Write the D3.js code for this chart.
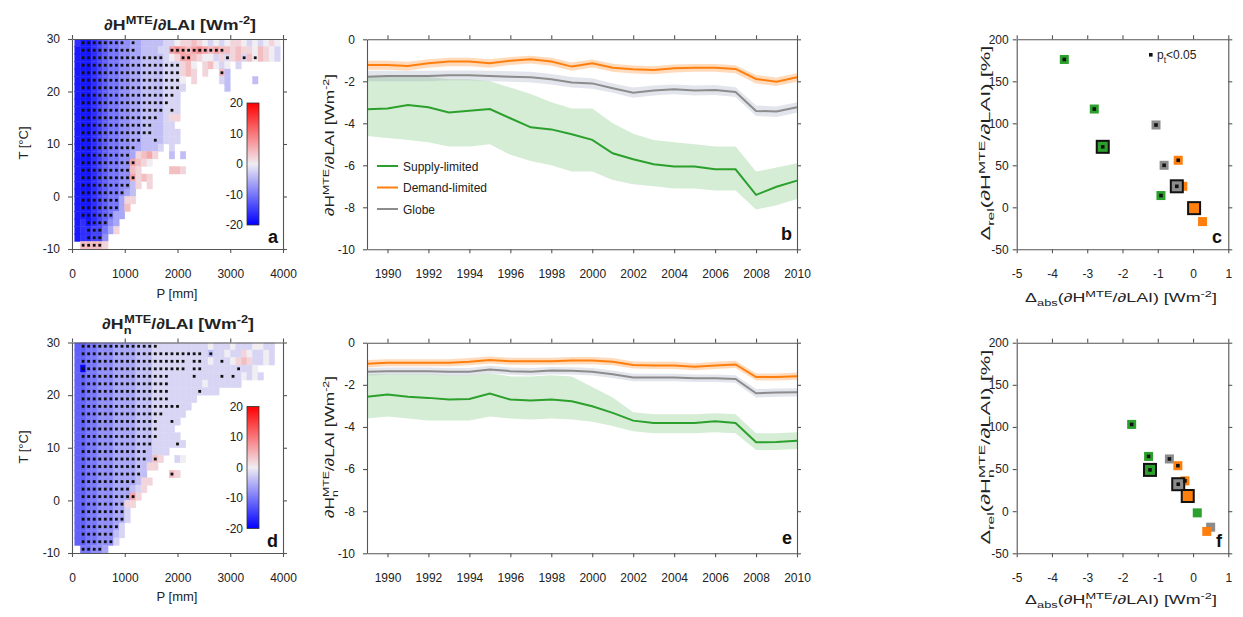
<!DOCTYPE html>
<html>
<head>
<meta charset="utf-8">
<script src="https://cdn.jsdelivr.net/npm/d3@7"></script>
<style>
body { margin: 0; background: #fff; }
svg { font-family: "Liberation Sans", Arial, sans-serif; }
.tick text { font-size: 12px; fill: #222; }
.tick line, .domain { stroke: #555; stroke-width: 1.1; }
</style>
</head>
<body>
<svg width="1243" height="617"></svg>
<script>
const svg = d3.select('svg')

// ---- panels a, d: P-T heat maps ----
const pTicks = [0, 1000, 2000, 3000, 4000]
const tTicks = [-10, 0, 10, 20, 30]
const cbTicks = [-20, -10, 0, 10, 20]
const pStep = 4000 / 38, tStep = 40 / 28
// one string per T row (top = warmest), one char per P bin
// a..u = -20..+20 in steps of 2, capital letter = p_t<0.05, '.' = no data
const mapA = [
  '.cBBCDEFFGgHhiiiijjkllmlkjkjkllkjkjklk',
  '.bBBCDEFFGGHhiiijjNONMNONMNMmlmllkmlkj',
  '.bBBCDEFFGGHHIIIIjklNNmlkkjlJlmJmKmlkj',
  '.bBBCDEFFGGHHIIIIJJJlmk.lmkjk.j',
  '.bBBCDEFFGGHHIIIIJJJlml.l..Mi',
  '.bBBCDEFFGGHHIIIIJJJk.l....ji....i',
  '.bBBCDEFFGGHHIIIIJJJj.......i',
  '.bBBCDEFFGGHHIIIIJJj',
  '.bBBCDEFFGGHHIIIIJjj',
  '.bBBCDEFFGGHHIIIIjJj',
  '.bBBCDEFFGGHHIIIijll',
  '.bBBCDEFFGGHHIIiijj',
  '.bBBCDEFFGGHHIIiijjj',
  '.bBBCDEFFGGHHiiIijjj',
  '.bBBCDEFFGGHhiiij.j',
  '.bBBCDEFFGGhlmnl..i.i',
  '.bBBCDEFFGGNmlk',
  '.bBBCDEFFGGml.....mml',
  '.bBBCDEFFGGNlml',
  '.bBBCDEFFGGil.l',
  '.bBBCDEFFGhi',
  '.bBBCDEFFhll',
  '.bBBCDEFFhm',
  '.bBBCDEFhh',
  '.bcBCDEgh',
  '.bcCDDfhl',
  '.bcCDDg',
  '..MMMMl'
]
const mapD = [
  '.eEFFGGGHHHHIIIJjjjjjjjjjkjjjkjjjkkjj',
  '.eEFFGGGHHHHIIIJJJJJJJJJjIjjkjjlkjjkj',
  '.eEFFGGGHHHHIIIJJJJJJjJJjkjJjklmljjkj',
  '.eAFFGGGHHHHIIIJJJJJJjJJjjjjjjJjjk',
  '.eEFFGGGHHHHIIIJJJjjjjJjjjjJjJjkjkj',
  '.eEFFGGGHHHHIIIJJJjjjjjjkjjjjjj',
  '.eEFFGGGHHHHIIIJJJjjjjjJjjj',
  '.eEFFGGGHHHHIIIJJJjjjjj',
  '.eEFFGGGHHHHIIIJJJJJjj',
  '.eEFFGGGHHHHIIIJJjjjj',
  '.eEFFGGGHHHHIIIJjjJj',
  '.eEFFGGGHHHHIIIJjjj',
  '.eEFFGGGHHHHIIIJjjjj',
  '.eEFFGGGHHHHIIIjjjjJj',
  '.eEFFGGGHHHHIIijjj',
  '.eEFFGGGHHHHIIiMl..jk',
  '.eEFFGGGHHHHIill',
  '.eEFFGGGHHHHIi....Ml',
  '.eEFFGGGHHHHill',
  '.eEFFGGGHHHijl',
  '.eEFFGGGHHHNl',
  '.eEFFGGGHHll',
  '.eEFFGGGHHj',
  '.eEFFGGGHHj',
  '.eEFFGGGHj',
  '.eEFFGGGij',
  '.eEFFGGGj',
  '..FFGGh'
]

// ---- panels b, e: time series ----
const years = [1989, 1990, 1991, 1992, 1993, 1994, 1995, 1996, 1997, 1998, 1999, 2000, 2001, 2002, 2003, 2004, 2005, 2006, 2007, 2008, 2009, 2010]
const yearTicks = [1990, 1992, 1994, 1996, 1998, 2000, 2002, 2004, 2006, 2008, 2010]
const lineTicks = [-10, -8, -6, -4, -2, 0]

const bSupply   = [-3.33, -3.30, -3.13, -3.24, -3.49, -3.40, -3.32, -3.76, -4.19, -4.29, -4.52, -4.79, -5.43, -5.71, -5.95, -6.06, -6.06, -6.19, -6.19, -7.41, -7.02, -6.73]
const bSupplyHi = [-1.8, -1.8, -1.8, -1.8, -1.9, -1.9, -2.0, -2.3, -2.6, -3.0, -3.3, -3.3, -4.0, -4.5, -4.8, -4.9, -5.0, -5.1, -5.1, -6.3, -6.1, -5.9]
const bSupplyLo = [-4.6, -4.7, -4.8, -4.9, -5.1, -5.1, -5.0, -5.5, -5.8, -6.0, -6.3, -6.3, -6.7, -6.9, -7.0, -7.1, -7.1, -7.2, -7.2, -8.1, -7.9, -7.6]
const bDemand   = [-1.22, -1.22, -1.27, -1.14, -1.06, -1.06, -1.14, -1.02, -0.95, -1.06, -1.30, -1.14, -1.35, -1.43, -1.46, -1.38, -1.35, -1.35, -1.41, -1.89, -2.02, -1.81]
const bDemandHi = [-1.02, -1.02, -1.07, -0.95, -0.88, -0.88, -0.95, -0.84, -0.78, -0.88, -1.10, -0.96, -1.17, -1.25, -1.28, -1.20, -1.18, -1.18, -1.24, -1.70, -1.82, -1.62]
const bDemandLo = [-1.45, -1.45, -1.48, -1.36, -1.28, -1.28, -1.35, -1.22, -1.15, -1.26, -1.50, -1.34, -1.55, -1.63, -1.66, -1.58, -1.55, -1.55, -1.62, -2.10, -2.22, -2.02]
const bGlobe    = [-1.78, -1.75, -1.75, -1.75, -1.71, -1.71, -1.75, -1.78, -1.81, -1.90, -2.06, -2.10, -2.33, -2.54, -2.44, -2.38, -2.44, -2.41, -2.51, -3.41, -3.44, -3.24]
const bGlobeHi  = [-1.5, -1.5, -1.5, -1.5, -1.48, -1.48, -1.5, -1.52, -1.55, -1.65, -1.8, -1.85, -2.1, -2.3, -2.2, -2.15, -2.2, -2.18, -2.28, -3.15, -3.2, -3.0]
const bGlobeLo  = [-2.0, -2.0, -2.0, -2.0, -1.95, -1.95, -2.0, -2.02, -2.06, -2.15, -2.3, -2.35, -2.55, -2.78, -2.68, -2.62, -2.68, -2.65, -2.75, -3.65, -3.7, -3.5]

const eSupply   = [-2.57, -2.46, -2.57, -2.62, -2.70, -2.67, -2.41, -2.70, -2.75, -2.70, -2.78, -3.02, -3.33, -3.70, -3.81, -3.81, -3.81, -3.73, -3.81, -4.73, -4.71, -4.65]
const eSupplyHi = [-1.5, -1.5, -1.5, -1.5, -1.55, -1.55, -1.45, -1.6, -1.6, -1.55, -1.6, -2.1, -2.6, -3.3, -3.4, -3.4, -3.4, -3.35, -3.4, -4.3, -4.3, -4.25]
const eSupplyLo = [-3.6, -3.5, -3.6, -3.7, -3.7, -3.7, -3.5, -3.6, -3.65, -3.6, -3.65, -3.75, -3.95, -4.2, -4.3, -4.3, -4.3, -4.25, -4.3, -5.1, -5.1, -5.05]
const eDemand   = [-1.0, -0.95, -0.95, -0.95, -0.95, -0.9, -0.82, -0.88, -0.88, -0.88, -0.85, -0.85, -0.9, -1.06, -1.08, -1.08, -1.14, -1.08, -1.03, -1.63, -1.63, -1.59]
const eDemandHi = [-0.82, -0.78, -0.78, -0.78, -0.78, -0.73, -0.66, -0.71, -0.71, -0.71, -0.68, -0.68, -0.73, -0.89, -0.91, -0.91, -0.97, -0.91, -0.86, -1.46, -1.46, -1.42]
const eDemandLo = [-1.18, -1.12, -1.12, -1.12, -1.12, -1.07, -0.99, -1.05, -1.05, -1.05, -1.02, -1.02, -1.07, -1.23, -1.25, -1.25, -1.31, -1.25, -1.2, -1.8, -1.8, -1.76]
const eGlobe    = [-1.38, -1.35, -1.35, -1.35, -1.38, -1.38, -1.27, -1.35, -1.38, -1.32, -1.33, -1.38, -1.5, -1.65, -1.65, -1.65, -1.69, -1.69, -1.72, -2.4, -2.37, -2.35]
const eGlobeHi  = [-1.2, -1.18, -1.18, -1.18, -1.2, -1.2, -1.1, -1.18, -1.2, -1.15, -1.16, -1.2, -1.32, -1.47, -1.47, -1.47, -1.51, -1.51, -1.54, -2.2, -2.18, -2.16]
const eGlobeLo  = [-1.56, -1.52, -1.52, -1.52, -1.56, -1.56, -1.45, -1.52, -1.56, -1.5, -1.51, -1.56, -1.68, -1.83, -1.83, -1.83, -1.87, -1.87, -1.9, -2.6, -2.57, -2.55]

// ---- panels c, f: scatter ----
const absTicks = [-5, -4, -3, -2, -1, 0, 1]
const relTicks = [-50, 0, 50, 100, 150, 200]
const groups = ['supply', 'supply', 'supply', 'supply', 'globe', 'globe', 'globe', 'demand', 'demand', 'demand', 'demand']
const cX   = [-3.65, -2.80, -2.56, -0.91, -1.05, -0.82, -0.46, -0.42, -0.29, 0.03, 0.27]
const cY   = [176, 117, 72, 14, 98, 50, 25, 56, 25, -1, -17]
const cBig = [0, 0, 1, 0, 0, 0, 1, 0, 0, 1, 0]
const cSig = [1, 1, 1, 1, 1, 1, 1, 1, 0, 0, 0]
const fX   = [-1.74, -1.26, -1.22, 0.12, -0.67, -0.42, 0.50, -0.43, -0.23, -0.15, 0.39]
const fY   = [103, 65, 49, -2, 62, 32, -19, 54, 36, 18, -24]
const fBig = [0, 0, 1, 0, 0, 1, 0, 0, 0, 1, 0]
const fSig = [1, 1, 1, 0, 1, 1, 0, 1, 1, 0, 0]

const colors = {supply: '#2ca02c', demand: '#ff7f0e', globe: '#8c8c8c'}
const bandColors = {supply: '#2ca02c', demand: '#ff7f0e', globe: '#98a2b8'}
const heatColor = d3.scaleLinear().domain([-20, 0, 20]).range(['#0000ff', '#f0edf3', '#ff0000'])

// rich text with super/subscripts: parts = [[text, 'sup'|'sub'|undefined, dx]]
const rich = (sel, parts, fs) => {
  let shift = 0
  parts.forEach(([t, mode, dx]) => {
    const to = mode === 'sup' ? -0.42 * fs : mode === 'sub' ? 0.32 * fs : 0
    sel.append('tspan')
    .attr('dy', to - shift)
    .attr('dx', dx || 0)
    .attr('font-size', mode ? 0.72 * fs : fs)
    .text(t)
    shift = to
  })
}

const label = (x, y, parts, o = {}) => {
  const fs = o.size || 12
  const g = svg
  .append('g')
  .attr('transform', `translate(${x},${y})${o.rotate ? ' rotate(-90)' : ''}`)
  const t = g
  .append('text')
  .attr('text-anchor', o.anchor || 'middle')
  .attr('font-weight', o.bold ? 'bold' : null)
  .attr('font-size', fs)
  .attr('fill', '#222')
  rich(t, parts, fs)
  if (o.len) t.attr('transform', `scale(${o.len / t.node().getBBox().width},1)`)
  return t
}

const fmt = d => String(d)

// boxed axes with outward ticks on all four sides
const frame = (x, y, xTicks, yTicks, yPad) => {
  const [x0, x1] = x.range(), [y0, y1] = y.range()
  const g = svg.append('g')
  g.append('g')
  .attr('transform', `translate(0,${y0})`)
  .call(d3.axisBottom(x).tickValues(xTicks).tickSize(4).tickSizeOuter(0).tickPadding(16).tickFormat(fmt))
  g.append('g')
  .attr('transform', `translate(0,${y1})`)
  .call(d3.axisTop(x).tickValues(xTicks).tickSize(4).tickSizeOuter(0).tickFormat(''))
  g.append('g')
  .attr('transform', `translate(${x0},0)`)
  .call(d3.axisLeft(y).tickValues(yTicks).tickSize(4).tickSizeOuter(0).tickPadding(yPad).tickFormat(fmt))
  g.append('g')
  .attr('transform', `translate(${x1},0)`)
  .call(d3.axisRight(y).tickValues(yTicks).tickSize(4).tickSizeOuter(0).tickFormat(''))
}

const decode = ch => (ch.toLowerCase().charCodeAt(0) - 97) * 2 - 20

const heatMap = (rows, top, bottom, id) => {
  const x = d3.scaleLinear().domain([0, 4000]).range([72, 283])
  const y = d3.scaleLinear().domain([-10, 30]).range([bottom, top])

  svg.append('clipPath').attr('id', id)
  .append('rect').attr('x', 72).attr('y', top).attr('width', 211).attr('height', bottom - top)

  const cells = []
  rows.forEach((row, r) => row.split('').forEach((ch, k) => {
    if (ch !== '.') cells.push({p: k * pStep, t: 30 - (r + 0.5) * tStep, v: decode(ch), sig: ch >= 'A' && ch <= 'Z'})
  }))

  const w = x(pStep) - x(0), h = y(0) - y(tStep)
  const g = svg.append('g').attr('clip-path', `url(#${id})`)

  g.selectAll('.cell')
  .data(cells)
  .enter()
  .append('rect')
  .attr('x', d => x(d.p) - w / 2)
  .attr('y', d => y(d.t) - h / 2)
  .attr('width', w)
  .attr('height', h)
  .attr('fill', d => heatColor(d.v))
  .attr('stroke', d => heatColor(d.v))
  .attr('stroke-width', 0.4)

  g.selectAll('.dot')
  .data(cells.filter(d => d.sig))
  .enter()
  .append('rect')
  .attr('x', d => x(d.p) - 1.4)
  .attr('y', d => y(d.t) - 1.4)
  .attr('width', 2.8)
  .attr('height', 2.8)
  .attr('fill', '#111')

  // colour bar
  const grad = svg.append('defs').append('linearGradient')
  .attr('id', id + 'cb').attr('x1', 0).attr('y1', 1).attr('x2', 0).attr('y2', 0)
  cbTicks.forEach(v => grad.append('stop').attr('offset', (v + 20) / 40).attr('stop-color', heatColor(v)))
  const cb = d3.scaleLinear().domain([-20, 20]).range([top + 186, top + 64])
  svg.append('rect')
  .attr('x', 247).attr('y', cb(20)).attr('width', 12).attr('height', cb(-20) - cb(20))
  .attr('fill', `url(#${id}cb)`).attr('stroke', '#333').attr('stroke-width', 0.8)
  svg.append('g')
  .selectAll('text')
  .data(cbTicks)
  .enter()
  .append('text')
  .attr('x', 243)
  .attr('y', d => cb(d) + 4)
  .attr('text-anchor', 'end')
  .attr('font-size', 12)
  .attr('fill', '#222')
  .text(fmt)

  frame(x, y, pTicks, tTicks, 8)
}

const series = (top, bottom, sets) => {
  const x = d3.scaleLinear().domain([1989, 2010]).range([367, 797])
  const y = d3.scaleLinear().domain([-10, 0]).range([bottom, top])
  const area = d3.area().x(d => x(d.yr)).y0(d => y(d.lo)).y1(d => y(d.hi))
  const line = d3.line().x(d => x(d.yr)).y(d => y(d.v))

  sets.forEach(s => {
    svg.append('path')
    .datum(years.map((yr, i) => ({yr, lo: s.lo[i], hi: s.hi[i]})))
    .attr('d', area)
    .attr('fill', bandColors[s.key])
    .attr('fill-opacity', s.key === 'supply' ? 0.2 : 0.28)
  })
  sets.forEach(s => {
    svg.append('path')
    .datum(years.map((yr, i) => ({yr, v: s.v[i]})))
    .attr('d', line)
    .attr('fill', 'none')
    .attr('stroke', colors[s.key])
    .attr('stroke-width', 2)
  })
  frame(x, y, yearTicks, lineTicks, 8)
}

const scatter = (top, bottom, xs, ys, big, sig) => {
  const x = d3.scaleLinear().domain([-5, 1]).range([1016.7, 1228.3])
  const y = d3.scaleLinear().domain([-50, 200]).range([bottom, top])
  const pts = xs.map((v, i) => ({x: v, y: ys[i], g: groups[i], big: big[i], sig: sig[i]}))

  svg.append('g')
  .selectAll('rect')
  .data(pts.filter(d => !d.big))
  .enter()
  .append('rect')
  .attr('x', d => x(d.x) - 4.5)
  .attr('y', d => y(d.y) - 4.5)
  .attr('width', 9)
  .attr('height', 9)
  .attr('fill', d => colors[d.g])

  svg.append('g')
  .selectAll('rect')
  .data(pts.filter(d => d.big))
  .enter()
  .append('rect')
  .attr('x', d => x(d.x) - 6)
  .attr('y', d => y(d.y) - 6)
  .attr('width', 12)
  .attr('height', 12)
  .attr('fill', d => colors[d.g])
  .attr('stroke', '#111')
  .attr('stroke-width', 2)

  svg.append('g')
  .selectAll('rect')
  .data(pts.filter(d => d.sig))
  .enter()
  .append('rect')
  .attr('x', d => x(d.x) - 1.8)
  .attr('y', d => y(d.y) - 1.8)
  .attr('width', 3.6)
  .attr('height', 3.6)
  .attr('fill', '#111')

  frame(x, y, absTicks, relTicks, 4)
}

// draw
heatMap(mapA, 39, 249, 'clipA')
heatMap(mapD, 342.5, 553, 'clipD')

series(39.3, 249.3, [
  {key: 'supply', v: bSupply, lo: bSupplyLo, hi: bSupplyHi},
  {key: 'globe', v: bGlobe, lo: bGlobeLo, hi: bGlobeHi},
  {key: 'demand', v: bDemand, lo: bDemandLo, hi: bDemandHi}
])
series(342.7, 553.3, [
  {key: 'supply', v: eSupply, lo: eSupplyLo, hi: eSupplyHi},
  {key: 'globe', v: eGlobe, lo: eGlobeLo, hi: eGlobeHi},
  {key: 'demand', v: eDemand, lo: eDemandLo, hi: eDemandHi}
])

scatter(39.3, 249.3, cX, cY, cBig, cSig)
scatter(342.7, 553.3, fX, fY, fBig, fSig)

// legend of panel b
const legend = [['supply', 'Supply-limited'], ['demand', 'Demand-limited'], ['globe', 'Globe']]
legend.forEach(([key, name], i) => {
  const ly = 166 + i * 21.5
  svg.append('line')
  .attr('x1', 377).attr('x2', 398).attr('y1', ly).attr('y2', ly)
  .attr('stroke', colors[key]).attr('stroke-width', 2)
  svg.append('text')
  .attr('x', 403).attr('y', ly + 4.5)
  .attr('font-size', 12).attr('fill', '#222')
  .text(name)
})

// significance key of panel c
svg.append('rect').attr('x', 1149).attr('y', 53).attr('width', 3.6).attr('height', 3.6).attr('fill', '#111')
label(1157, 59, [['p'], ['t', 'sub'], ['<0.05']], {anchor: 'start'})

// titles and axis labels
const nW = -0.4 * 15
label(180, 30, [['∂H'], ['MTE', 'sup'], ['/∂LAI [Wm'], ['-2', 'sup'], [']']], {size: 15, bold: true, len: 152})
label(178, 329, [['∂H'], ['n', 'sub'], ['MTE', 'sup', nW], ['/∂LAI [Wm'], ['-2', 'sup'], [']']], {size: 15, bold: true, len: 152})

label(28, 143, [['T [°C]']], {rotate: true, size: 13})
label(28, 447, [['T [°C]']], {rotate: true, size: 13})
label(177, 298, [['P [mm]']], {size: 13})
label(177, 601, [['P [mm]']], {size: 13})

const nS = -0.4 * 12.5
label(334, 145, [['∂H'], ['MTE', 'sup'], ['/∂LAI [Wm'], ['-2', 'sup'], [']']], {rotate: true, size: 12.5, len: 142})
label(334, 447, [['∂H'], ['n', 'sub'], ['MTE', 'sup', nS], ['/∂LAI [Wm'], ['-2', 'sup'], [']']], {rotate: true, size: 12.5, len: 142})

label(990, 143, [['Δ'], ['rel', 'sub'], ['(∂H'], ['MTE', 'sup'], ['/∂LAI) [%]']], {rotate: true, size: 12.5, len: 195})
label(990, 447, [['Δ'], ['rel', 'sub'], ['(∂H'], ['n', 'sub'], ['MTE', 'sup', nS], ['/∂LAI) [%]']], {rotate: true, size: 12.5, len: 195})
label(1121, 302, [['Δ'], ['abs', 'sub'], ['(∂H'], ['MTE', 'sup'], ['/∂LAI) [Wm'], ['-2', 'sup'], [']']], {size: 12.5, len: 192})
label(1121, 604, [['Δ'], ['abs', 'sub'], ['(∂H'], ['n', 'sub'], ['MTE', 'sup', nS], ['/∂LAI) [Wm'], ['-2', 'sup'], [']']], {size: 12.5, len: 192})

// panel letters
const letters = [['a', 278, 243], ['b', 792, 240], ['c', 1222, 243], ['d', 278, 547], ['e', 792, 544], ['f', 1222, 547]]
letters.forEach(([t, lx, ly]) => {
  svg.append('text')
  .attr('x', lx).attr('y', ly)
  .attr('text-anchor', 'end')
  .attr('font-size', 18).attr('font-weight', 'bold').attr('fill', '#111')
  .text(t)
})
</script>
</body>
</html>
